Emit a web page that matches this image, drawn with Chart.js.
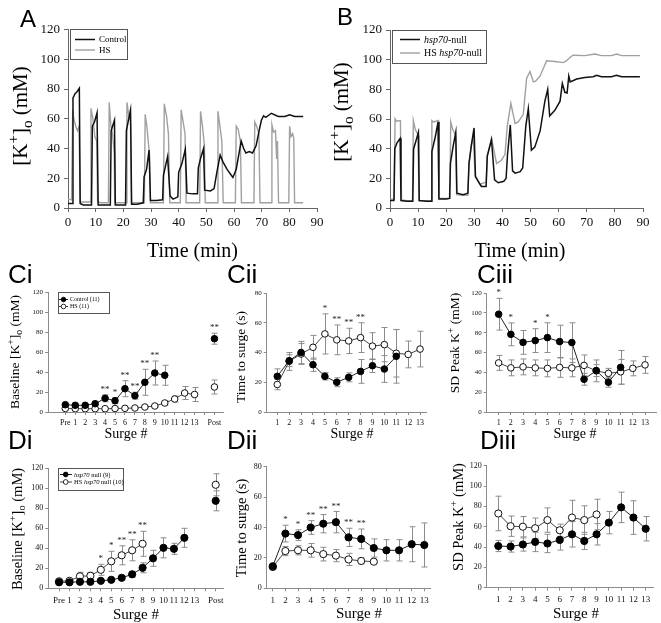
<!DOCTYPE html>
<html>
<head>
<meta charset="utf-8">
<script src="https://cdn.jsdelivr.net/npm/chart.js@4.4.0/dist/chart.umd.min.js"></script>
<style>
  body { margin: 0; background: #fff; }
  #fig { position: relative; width: 661px; height: 623px; overflow: hidden; }
  #fig canvas { position: absolute; }
  .tag { position: absolute; z-index: 2; font-family: "Liberation Sans", Arial, sans-serif; line-height: 1; color: #000; }
</style>
</head>
<body>
<div id="fig">
  <div class="tag" style="left:20px;top:7px;font-size:24px">A</div>
  <div class="tag" style="left:337px;top:5px;font-size:24px">B</div>
  <div class="tag" style="left:8px;top:261px;font-size:26px">Ci</div>
  <div class="tag" style="left:227px;top:261px;font-size:26px">Cii</div>
  <div class="tag" style="left:477px;top:261px;font-size:26px">Ciii</div>
  <div class="tag" style="left:8px;top:427px;font-size:26px">Di</div>
  <div class="tag" style="left:227px;top:427px;font-size:26px">Dii</div>
  <div class="tag" style="left:480px;top:427px;font-size:26px">Diii</div>
</div>
<script>
const serif = '"Liberation Serif", "Times New Roman", serif';

// Panel A traces: [time (min), [K+]o (mM)]
const traceControl = [
  [0, 3], [1.5, 3], [1.8, 74], [2.6, 77], [3.2, 78], [4.1, 80.5], [4.4, 3], [5.5, 2], [8.5, 2],
  [8.8, 55], [9.6, 58], [10.5, 64], [10.9, 2], [12, 2], [15.3, 2], [15.6, 52], [16.8, 59], [17.1, 2],
  [19, 2], [20.8, 2], [21.1, 52], [22.6, 66], [23, 2.5], [25, 2.5], [27.2, 3.5], [27.5, 21],
  [28.4, 26], [29.3, 39], [29.8, 5], [32, 5], [34.2, 5.5], [34.5, 22], [36, 34.5], [36.9, 8],
  [38, 6], [39.7, 7.5], [40, 24], [41.2, 30], [42.4, 39.5], [43, 10], [45, 9.5], [46.8, 9.5],
  [47.1, 27], [48, 34], [49, 40], [49.4, 12], [51.5, 11.5], [52.8, 13], [53.8, 24], [55, 35.5],
  [56, 31], [57.5, 26], [59.6, 20.5], [60.8, 26], [62.6, 45], [63.5, 40], [64.3, 37], [65.5, 38],
  [66.7, 37], [68, 42], [69.2, 53], [69.9, 59], [70.7, 62], [71.5, 61], [73.5, 63.7], [76, 61.5],
  [78.4, 61.5], [80.1, 62.7], [81.9, 61.5], [85, 61.5],
];
const traceHs = [
  [0, 6], [1.3, 5.5], [1.7, 66], [2.1, 60], [2.8, 55], [3.4, 52], [4, 55], [4.4, 4], [6, 4], [8, 4],
  [8.3, 67], [9, 60], [9.7, 48], [10.4, 45], [10.7, 4], [12, 3.5], [14.6, 3.5], [14.9, 71],
  [15.5, 55], [16.1, 50], [16.7, 37], [16.9, 3.5], [19, 3.5], [21, 3.5], [21.3, 71], [22, 62],
  [22.6, 58], [22.9, 3.5], [25, 3.5], [27.6, 3.5], [27.9, 63], [28.5, 55], [29, 45], [29.5, 35],
  [29.8, 3.5], [32, 3.5], [34.5, 3.5], [34.8, 70], [35.6, 62], [36.3, 50], [36.8, 3.5], [39, 3.5],
  [40.6, 3.5], [40.9, 66], [41.6, 58], [42.3, 50], [42.7, 3.5], [45, 3.5], [47.6, 3.5], [47.9, 65],
  [48.6, 55], [49.3, 42], [49.6, 3.5], [52, 3.5], [53.9, 3.5], [54.2, 65], [54.9, 55], [55.6, 45],
  [56.1, 3.5], [58, 3.5], [60.5, 3.5], [60.8, 55], [61.5, 53], [62.3, 45], [62.7, 3.5], [65, 3.5],
  [67.2, 3.5], [67.5, 58], [68.2, 55], [69, 50], [69.4, 3.5], [71, 3.5], [73.4, 3.5], [73.7, 56],
  [74.3, 51], [75, 52], [75.4, 33], [75.7, 45], [76.1, 3.5], [78, 3.5], [79.8, 3.5], [80.1, 55],
  [80.6, 48], [81.2, 50], [81.6, 47], [81.9, 3.5], [85, 3.5],
];

// Panel B traces
const traceNull = [
  [0, 5], [1.4, 5], [1.7, 40], [2.5, 44], [3.6, 47], [3.9, 5], [6, 4.5], [8.1, 4.5], [8.4, 40],
  [9.2, 45], [10.1, 51], [10.4, 5], [13, 4.5], [14.6, 4.5], [14.9, 38], [16, 47], [17.1, 58],
  [17.4, 6], [20, 6], [21.2, 6.5], [21.5, 30], [22.4, 41], [23.4, 51], [23.8, 10], [26, 9],
  [27.7, 10], [28.1, 30], [29, 43], [29.9, 54], [30.4, 21], [32.5, 14.5], [34.2, 14.5], [34.6, 35],
  [36.1, 46], [37.2, 19], [38.5, 17], [40.5, 18], [41.3, 20], [41.8, 36], [42.8, 56], [43.6, 25],
  [44.5, 23.5], [46.3, 24.5], [47.2, 27], [48.3, 55], [49.2, 67], [50.3, 39], [51.5, 41],
  [53.4, 52], [55.1, 72], [56.1, 80], [56.8, 62], [58.7, 66], [60.5, 72], [61.3, 84], [62.2, 78],
  [63, 77.5], [63.6, 89], [64.1, 85], [66.4, 87], [69.3, 88], [72.3, 88.5], [73.5, 89.5],
  [75.2, 88.5], [78.8, 88.5], [80.6, 89.5], [82.4, 88.5], [88.9, 88.5],
];
const traceHsNull = [
  [0, 6], [1.5, 6], [1.8, 60], [2.3, 58.5], [3.7, 59], [4.1, 5.5], [6, 5], [8, 5], [8.3, 59],
  [9, 53], [10, 49], [10.3, 5], [13, 5], [14.6, 5], [14.9, 59], [15.5, 58], [17.1, 59], [17.4, 6.5],
  [20, 6.5], [21.3, 6.5], [21.6, 58], [22.3, 53], [23.3, 49], [23.7, 9], [26, 8.5], [27.7, 8.5],
  [28.1, 30], [29, 43], [29.6, 47], [30.3, 22], [32, 16], [34.2, 17.5], [34.6, 35], [36.1, 47],
  [37.9, 30], [39.5, 32], [40.9, 36], [41.7, 55], [43, 70.5], [44.5, 57], [45.6, 58], [47.4, 63],
  [48.6, 87.5], [49.8, 92], [51, 85], [51.8, 85.5], [53.4, 89], [55.7, 99.3], [58.7, 98.8],
  [61.6, 98], [62.6, 99], [64.3, 102], [65.2, 103], [69.3, 102.7], [72.9, 103.8], [75.2, 102.7],
  [78.8, 102.7], [80.6, 103.8], [82.4, 102.7], [88.9, 102.7],
];

// category labels of the surge plots
const baselineLabels = ['Pre', '1', '2', '3', '4', '5', '6', '7', '8', '9', '10', '11', '12', '13', '', 'Post'];
const surgeLabels = ['1', '2', '3', '4', '5', '6', '7', '8', '9', '10', '11', '12', '13'];

// Ci: baseline K+ (Pre, 1..13, gap, Post)
const ciControl = [7.3, 6.7, 6.7, 8.3, 13.7, 11.3, 23.3, 16.3, 29.7, 39, 36.7, null, null, null, null, 73.3];
const ciControlErr = [1, 1, 1, 1.5, 3.5, 3, 8, 3.5, 13, 12, 10, 0, 0, 0, 0, 5.5];
const ciHs = [3.5, 3.3, 3.3, 3.3, 3.3, 3.5, 3.7, 4, 5, 6, 9, 13, 19, 17.5, null, 25];
const ciHsErr = [1, 1, 1, 1, 1, 1, 1, 1, 1, 1.5, 2, 3, 6.5, 7, 0, 7];
const ciStars = ['', '', '', '', '**', '*', '**', '**', '**', '**', '', '', '', '', '', '**'];

// Cii: time to surge (surge 1..13)
const ciiControl = [24, 34.5, 40, 31.8, 24, 20, 23.3, 27.3, 31.1, 28.9, 37.4];
const ciiControlErr = [5, 4, 7.5, 4.5, 2.5, 3, 3, 8, 4.5, 9, 18];
const ciiHs = [18.5, 34, 39, 43.5, 52.5, 48.5, 47.8, 50, 44.3, 45.3, 39.5, 38.7, 42.3];
const ciiHsErr = [3.5, 6, 7, 8, 13.5, 10, 8.5, 10, 9, 11.5, 16, 9, 12];
const ciiStars = ['', '', '', '', '*', '**', '**', '**', '', '', '', '', ''];

// Ciii: SD peak K+
const ciiiControl = [98.6, 78.3, 70.2, 72, 75, 71, 70, 33, 41.8, 30, 45];
const ciiiControlErr = [16, 11.5, 12, 12, 15, 16.5, 20, 6, 6, 5, 17];
const ciiiHs = [49.5, 44.5, 45.5, 44.5, 44, 45, 44.5, 47, 41.5, 39, 40.5, 44, 47.5];
const ciiiHsErr = [7.5, 8, 8, 8, 8.5, 10, 9, 10.5, 11, 5, 12.5, 7.5, 8.5];
const ciiiStars = ['*', '*', '', '*', '*', '', '', '', '', '', '', '', ''];

// Di: baseline K+, hsp70 null
const diNull = [6, 6, 6.5, 6.5, 7.5, 8.5, 10.5, 14, 20.5, 30, 40.5, 39.5, 50.5, null, null, 87.5];
const diNullErr = [1, 1, 1, 1, 1, 1.5, 2, 3, 5, 8, 10, 5.5, 9.5, 0, 0, 10];
const diHs = [7, 7.5, 12, 12.5, 18.5, 27, 33, 38, 44.5, null, null, null, null, null, null, 103.5];
const diHsErr = [1.5, 1.5, 4, 3.5, 5.5, 10, 9.5, 10.5, 12.5, 0, 0, 0, 0, 0, 0, 11];
const diStars = ['', '', '', '', '*', '*', '**', '**', '**', '', '', '', '', '', '', ''];

// Dii: time to surge, hsp70 null
const diiNull = [14.5, 36, 35, 40, 42.5, 43.5, 33.5, 32.5, 26.5, 25, 25, 29, 28.5];
const diiNullErr = [1.5, 5.5, 3.5, 4.5, 6, 7, 6, 6.5, 6, 7, 7, 11.5, 14.5];
const diiHs = [14, 24.5, 25, 25, 22.5, 21.5, 19, 18, 17.5];
const diiHsErr = [1, 3, 3, 4.5, 4.5, 4, 4, 2, 1];
const diiStars = ['', '*', '*', '**', '**', '**', '**', '**', '', '', '', '', ''];

// Diii: SD peak K+, hsp70 null
const diiiNull = [41, 40.5, 42.5, 45, 43.5, 47, 52.5, 46, 52.5, 64, 79, 69, 58];
const diiiNullErr = [5.5, 5.5, 6.5, 9.5, 9, 10, 12.5, 8.5, 10.5, 11, 15, 16.5, 12];
const diiiHs = [73, 60.5, 60, 58.5, 66.5, 56.5, 69, 66.5, 72];
const diiiHsErr = [17, 10, 10, 10, 12, 6, 17, 14, 15];

const fig = document.getElementById('fig');

// Draw a run of text pieces ({t, sup, sub, it}) centred (or left aligned) on x,y.
function drawRich(ctx, segs, x, y, size, opts = {}) {
  ctx.save();
  ctx.translate(x, y);
  if (opts.rotate) ctx.rotate(-Math.PI / 2);
  ctx.fillStyle = '#000';
  ctx.textBaseline = 'alphabetic';
  const parts = segs.map((s) => {
    const fs = s.sup || s.sub ? size * 0.72 : size;
    const font = `${s.it ? 'italic ' : ''}${fs}px ${serif}`;
    ctx.font = font;
    return { s, font, w: ctx.measureText(s.t).width };
  });
  const total = parts.reduce((a, p) => a + p.w, 0);
  let cx = opts.left ? 0 : -total / 2;
  parts.forEach((p) => {
    ctx.font = p.font;
    let dy = size * 0.33;
    if (p.s.sup) dy -= size * 0.42;
    if (p.s.sub) dy += size * 0.22;
    ctx.fillText(p.s.t, cx, dy);
    cx += p.w;
  });
  ctx.restore();
}

function drawLegend(ctx, lg, ox, oy) {
  const [bx0, by0, bx1, by1] = lg.box;
  ctx.save();
  ctx.strokeStyle = '#555';
  ctx.lineWidth = 1;
  ctx.strokeRect(Math.round(bx0 - ox) + 0.5, Math.round(by0 - oy) + 0.5, bx1 - bx0, by1 - by0);
  lg.rows.forEach((r, i) => {
    const yy = lg.rowY[i] - oy;
    ctx.strokeStyle = r.color;
    ctx.lineWidth = r.width;
    ctx.beginPath();
    ctx.moveTo(lg.line[0] - ox, yy);
    ctx.lineTo(lg.line[1] - ox, yy);
    ctx.stroke();
    if (r.marker) {
      ctx.beginPath();
      ctx.arc(lg.markerX - ox, yy, lg.r, 0, Math.PI * 2);
      ctx.fillStyle = r.marker;
      ctx.fill();
      ctx.strokeStyle = '#000';
      ctx.lineWidth = 0.8;
      ctx.stroke();
    }
    drawRich(ctx, r.text, lg.textX - ox, yy, lg.size, { left: true });
  });
  ctx.restore();
}

// error bars, significance stars, axis titles and legends
const decor = {
  id: 'decor',
  beforeDatasetsDraw(chart, args, o) {
    if (!o.errors) return;
    const { ctx, scales: { x, y } } = chart;
    ctx.save();
    ctx.strokeStyle = '#8c8c8c';
    ctx.lineWidth = 1;
    chart.data.datasets.forEach((ds, i) => {
      const errs = o.errors[i];
      ds.data.forEach((p, j) => {
        if (p.y == null || !errs[j]) return;
        const px = Math.round(x.getPixelForValue(p.x)) + 0.5;
        const top = y.getPixelForValue(p.y + errs[j]);
        const bot = y.getPixelForValue(p.y - errs[j]);
        ctx.beginPath();
        ctx.moveTo(px, top);
        ctx.lineTo(px, bot);
        ctx.moveTo(px - o.cap, top);
        ctx.lineTo(px + o.cap, top);
        ctx.moveTo(px - o.cap, bot);
        ctx.lineTo(px + o.cap, bot);
        ctx.stroke();
      });
    });
    ctx.restore();
  },
  afterDraw(chart, args, o) {
    const { ctx, scales: { x, y } } = chart;
    const [ox, oy] = o.origin;
    if (o.stars) {
      ctx.save();
      ctx.font = `${o.starSize}px ${serif}`;
      ctx.fillStyle = '#222';
      ctx.textAlign = 'center';
      ctx.textBaseline = 'alphabetic';
      o.stars.forEach((s, j) => {
        if (!s) return;
        const xv = o.first + j;
        let top = -Infinity;
        chart.data.datasets.forEach((ds, i) => {
          const k = ds.data.findIndex((p) => p.x === xv);
          if (k < 0 || ds.data[k].y == null) return;
          top = Math.max(top, ds.data[k].y + (o.errors[i][k] || 0));
        });
        ctx.fillText(s, x.getPixelForValue(xv), y.getPixelForValue(top) - 3);
      });
      ctx.restore();
    }
    if (o.yTitle) drawRich(ctx, o.yTitle.text, o.yTitle.at[0] - ox, o.yTitle.at[1] - oy, o.yTitle.size, { rotate: true });
    if (o.xTitle) drawRich(ctx, o.xTitle.text, o.xTitle.at[0] - ox, o.xTitle.at[1] - oy, o.xTitle.size);
    if (o.legend) drawLegend(ctx, o.legend, ox, oy);
  },
};
Chart.register(decor);

function axis(min, max, fontSize, tickLen, pad, color, ticks = {}) {
  return {
    type: 'linear',
    min,
    max,
    grid: { drawOnChartArea: false, drawTicks: true, tickLength: tickLen, color, lineWidth: 1 },
    border: { display: true, color, width: 1 },
    ticks: {
      font: { family: serif, size: fontSize },
      color: '#111',
      padding: pad,
      autoSkip: false,
      maxRotation: 0,
      ...ticks,
    },
  };
}

// category-like ticks on a linear x axis
function catAxis(min, max, labels, first, fontSize, pad) {
  const a = axis(min, max, fontSize, 3, pad, '#8c8c8c', { callback: (v) => labels[v - first] });
  a.afterBuildTicks = (s) => { s.ticks = labels.map((_, i) => ({ value: first + i })); };
  return a;
}

// box = [left, top, width, height] of the canvas, area = [x0, y0, x1, y1] of the plot, page px
function panel(box, area, config) {
  const [left, top, w, h] = box;
  const [x0, y0, x1, y1] = area;
  const canvas = document.createElement('canvas');
  canvas.width = w;
  canvas.height = h;
  canvas.style.left = `${left}px`;
  canvas.style.top = `${top}px`;
  canvas.style.width = `${w}px`;
  canvas.style.height = `${h}px`;
  fig.appendChild(canvas);
  const o = config.options;
  o.responsive = false;
  o.animation = false;
  o.layout = { padding: { left: 0, top: y0 - top, right: left + w - x1, bottom: 0 } };
  o.scales.x.afterFit = (s) => { s.height = top + h - y1; };
  o.scales.y.afterFit = (s) => { s.width = x0 - left; };
  o.plugins = { legend: { display: false }, tooltip: { enabled: false }, decor: { ...o.decor, origin: [left, top] } };
  delete o.decor;
  return new Chart(canvas, config);
}

const pairs = (arr) => arr.map(([x, y]) => ({ x, y }));
const points = (values, first) => values.map((v, i) => ({ x: first + i, y: v }));

const kTitle = [{ t: '[K' }, { t: '+', sup: 1 }, { t: ']' }, { t: 'o', sub: 1 }, { t: ' (mM)' }];
const baseTitle = [{ t: 'Baseline [K' }, { t: '+', sup: 1 }, { t: ']' }, { t: 'o', sub: 1 }, { t: ' (mM)' }];
const timeTitle = [{ t: 'Time to surge (s)' }];
const sdTitle = [{ t: 'SD Peak K' }, { t: '+', sup: 1 }, { t: ' (mM)' }];
const surgeTitle = [{ t: 'Surge #' }];

function traceChart(box, area, dark, light, decorOpts) {
  return panel(box, area, {
    type: 'line',
    data: {
      datasets: [
        { data: pairs(dark), borderColor: '#111', borderWidth: 1.5, pointRadius: 0, tension: 0 },
        { data: pairs(light), borderColor: '#a0a0a0', borderWidth: 1.4, pointRadius: 0, tension: 0 },
      ],
    },
    options: {
      scales: {
        x: axis(0, 90, 13, 4, 3, '#666', { stepSize: 10 }),
        y: axis(0, 120, 13, 4, 4, '#666', { stepSize: 20 }),
      },
      decor: decorOpts,
    },
  });
}

traceChart([0, 0, 330, 262], [68, 29.5, 317, 208], traceControl, traceHs, {
  yTitle: { text: kTitle, at: [20, 116], size: 21 },
  xTitle: { text: [{ t: 'Time (min)' }], at: [192.5, 250], size: 20 },
  legend: {
    box: [70, 29, 127, 59], rowY: [39.5, 50], line: [75, 95], textX: 99, size: 9,
    rows: [
      { text: [{ t: 'Control' }], color: '#111', width: 1.5 },
      { text: [{ t: 'HS' }], color: '#a0a0a0', width: 1.4 },
    ],
  },
});

traceChart([330, 0, 331, 262], [390, 30, 643, 208], traceNull, traceHsNull, {
  yTitle: { text: kTitle, at: [341, 112], size: 21 },
  xTitle: { text: [{ t: 'Time (min)' }], at: [520, 250], size: 20 },
  legend: {
    box: [392, 30, 486, 63], rowY: [39.5, 53], line: [400, 420], textX: 424, size: 10,
    rows: [
      { text: [{ t: 'hsp70', it: 1 }, { t: '-null' }], color: '#111', width: 1.5 },
      { text: [{ t: 'HS ' }, { t: 'hsp70', it: 1 }, { t: '-null' }], color: '#a0a0a0', width: 1.4 },
    ],
  },
});

const filled = (r) => ({ borderColor: '#222', borderWidth: 1, pointRadius: r, pointBackgroundColor: '#000', pointBorderColor: '#000', pointBorderWidth: 1, tension: 0 });
const open = (r) => ({ borderColor: '#444', borderWidth: 1, pointRadius: r, pointBackgroundColor: '#fff', pointBorderColor: '#111', pointBorderWidth: 1, tension: 0 });

function surgeChart(spec) {
  return panel(spec.box, spec.area, {
    type: 'line',
    data: {
      datasets: [
        { data: points(spec.dark, spec.first), ...filled(spec.r) },
        { data: points(spec.light, spec.first), ...open(spec.r) },
      ],
    },
    options: {
      scales: {
        x: catAxis(spec.xr[0], spec.xr[1], spec.labels, spec.first, spec.xFont, spec.xPad),
        y: axis(0, spec.ymax, spec.yFont, 3, 2, '#8c8c8c', { stepSize: 20 }),
      },
      decor: {
        errors: [spec.darkErr, spec.lightErr],
        cap: 3,
        stars: spec.stars,
        starSize: 9,
        first: spec.first,
        yTitle: { text: spec.yTitle, at: spec.yAt, size: spec.yTitleSize },
        xTitle: { text: surgeTitle, at: spec.xAt, size: spec.xTitleSize },
        legend: spec.legend,
      },
    },
  });
}

surgeChart({
  box: [0, 262, 228, 183], area: [48, 292, 227, 412], first: 0, xr: [-1.74, 15.86], labels: baselineLabels,
  dark: ciControl, darkErr: ciControlErr, light: ciHs, lightErr: ciHsErr, stars: ciStars, r: 3.3, ymax: 120,
  xFont: 8, yFont: 7, xPad: 3, yTitle: baseTitle, yAt: [15, 352], yTitleSize: 13.5, xAt: [126, 433], xTitleSize: 14,
  legend: {
    box: [58, 292, 109, 313], rowY: [299.5, 306.5], line: [59, 68], markerX: 63.5, r: 2.3, textX: 70, size: 6,
    rows: [
      { text: [{ t: 'Control (11)' }], color: '#222', width: 1, marker: '#000' },
      { text: [{ t: 'HS (11)' }], color: '#444', width: 1, marker: '#fff' },
    ],
  },
});

surgeChart({
  box: [228, 262, 214, 183], area: [266.7, 293, 426, 412], first: 1, xr: [0.11, 13.5], labels: surgeLabels,
  dark: ciiControl, darkErr: ciiControlErr, light: ciiHs, lightErr: ciiHsErr, stars: ciiStars, r: 3.3, ymax: 80,
  xFont: 8, yFont: 7, xPad: 3, yTitle: timeTitle, yAt: [241, 357], yTitleSize: 13.5, xAt: [352, 433], xTitleSize: 14,
});

surgeChart({
  box: [442, 262, 219, 183], area: [486.7, 293, 657, 412], first: 1, xr: [0.02, 13.9], labels: surgeLabels,
  dark: ciiiControl, darkErr: ciiiControlErr, light: ciiiHs, lightErr: ciiiHsErr, stars: ciiiStars, r: 3.3, ymax: 120,
  xFont: 8, yFont: 7, xPad: 3, yTitle: sdTitle, yAt: [455, 343], yTitleSize: 13.5, xAt: [575, 433], xTitleSize: 14,
});

surgeChart({
  box: [0, 445, 228, 178], area: [48.3, 468.3, 227, 588.3], first: 0, xr: [-1.03, 15.7], labels: baselineLabels,
  dark: diNull, darkErr: diNullErr, light: diHs, lightErr: diHsErr, stars: diStars, r: 3.6, ymax: 120,
  xFont: 9, yFont: 8, xPad: 4, yTitle: baseTitle, yAt: [17, 529], yTitleSize: 14.5, xAt: [136, 614], xTitleSize: 15,
  legend: {
    box: [58, 468, 123, 490], rowY: [474.5, 482], line: [60, 72], markerX: 65.7, r: 2.4, textX: 74, size: 6.5,
    rows: [
      { text: [{ t: 'hsp70', it: 1 }, { t: ' null (9)' }], color: '#222', width: 1, marker: '#000' },
      { text: [{ t: 'HS ' }, { t: 'hsp70', it: 1 }, { t: ' null (10)' }], color: '#444', width: 1, marker: '#fff' },
    ],
  },
});

surgeChart({
  box: [228, 445, 214, 178], area: [266.7, 466.7, 430, 588.3], first: 1, xr: [0.52, 13.45], labels: surgeLabels,
  dark: diiNull, darkErr: diiNullErr, light: diiHs, lightErr: diiHsErr, stars: diiStars, r: 3.6, ymax: 80,
  xFont: 9, yFont: 8, xPad: 4, yTitle: timeTitle, yAt: [241, 528], yTitleSize: 14.5, xAt: [359, 613], xTitleSize: 15,
});

surgeChart({
  box: [442, 445, 219, 178], area: [486.7, 465.7, 653.3, 587.7], first: 1, xr: [0.055, 13.62], labels: surgeLabels,
  dark: diiiNull, darkErr: diiiNullErr, light: diiiHs, lightErr: diiiHsErr, stars: null, r: 3.6, ymax: 120,
  xFont: 9, yFont: 8, xPad: 4, yTitle: sdTitle, yAt: [458, 517], yTitleSize: 14.5, xAt: [576, 613], xTitleSize: 15,
});
</script>
</body>
</html>
